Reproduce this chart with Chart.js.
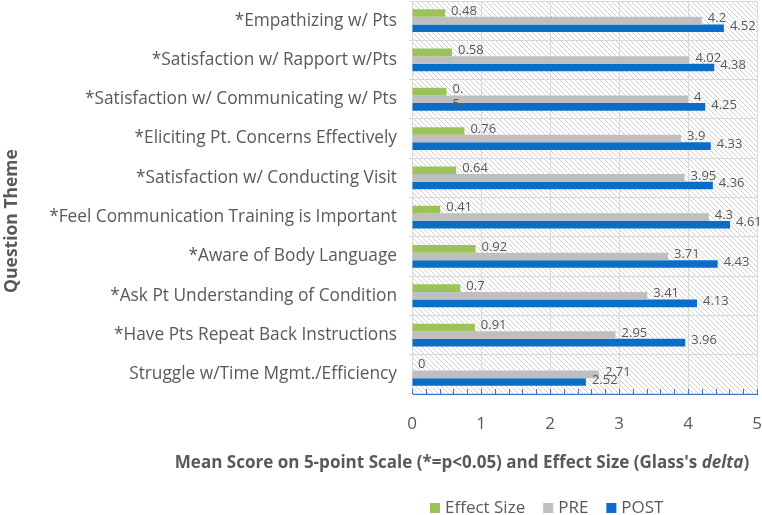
<!DOCTYPE html>
<html>
<head>
<meta charset="utf-8">
<script src="https://cdn.jsdelivr.net/npm/chart.js@4/dist/chart.umd.min.js"></script>
<style>
  html, body { margin: 0; padding: 0; background: #fff; }
</style>
</head>
<body>
<canvas id="chart" width="762" height="515"></canvas>
<script>
const themes = [
  "*Empathizing w/ Pts",
  "*Satisfaction w/ Rapport w/Pts",
  "*Satisfaction w/ Communicating w/ Pts",
  "*Eliciting Pt. Concerns Effectively",
  "*Satisfaction w/ Conducting Visit",
  "*Feel Communication Training is Important",
  "*Aware of Body Language",
  "*Ask Pt Understanding of Condition",
  "*Have Pts Repeat Back Instructions",
  "Struggle w/Time Mgmt./Efficiency"
];
const effectSize = [0.48, 0.58, 0.5, 0.76, 0.64, 0.41, 0.92, 0.7, 0.91, 0];
const preScores = [4.2, 4.02, 4, 3.9, 3.95, 4.3, 3.71, 3.41, 2.95, 2.71];
const postScores = [4.52, 4.38, 4.25, 4.33, 4.36, 4.61, 4.43, 4.13, 3.96, 2.52];
const xTicks = [0, 1, 2, 3, 4, 5];
// the 0.5 label wraps in the original
const effectLabels = effectSize.map(String);
effectLabels[2] = "0.\n5";

const FONT = "'Open Sans', sans-serif";
const TEXT = "#595959";

// diagonal hatch for the plot background
function hatch() {
  const c = document.createElement("canvas");
  c.width = 5; c.height = 5;
  const g = c.getContext("2d");
  g.fillStyle = "#fff";
  g.fillRect(0, 0, 5, 5);
  g.strokeStyle = "#cfcfcf";
  g.lineWidth = 1;
  g.beginPath();
  g.moveTo(-1, -1); g.lineTo(6, 6);
  g.moveTo(-1, 4); g.lineTo(1, 6);
  g.moveTo(4, -1); g.lineTo(6, 1);
  g.stroke();
  return g.createPattern(c, "repeat");
}

const decor = {
  id: "decor",
  beforeDraw(chart) {
    const { ctx, chartArea: a } = chart;
    ctx.save();
    ctx.fillStyle = hatch();
    ctx.fillRect(a.left, a.top, a.right - a.left, a.bottom - a.top);
    ctx.restore();
  },
  afterDatasetsDraw(chart) {
    const { ctx } = chart;
    const texts = [effectLabels, preScores.map(String), postScores.map(String)];
    ctx.save();
    ctx.font = "13px " + FONT;
    ctx.fillStyle = TEXT;
    ctx.textAlign = "left";
    ctx.textBaseline = "middle";
    chart.data.datasets.forEach((ds, di) => {
      chart.getDatasetMeta(di).data.forEach((el, i) => {
        const lines = texts[di][i].split("\n");
        lines.forEach((t, k) => ctx.fillText(t, el.x + 6, el.y - 2 + k * 15));
      });
    });
    ctx.restore();
  },
  afterDraw(chart) {
    const { ctx, chartArea: a, scales } = chart;
    const x = scales.x;
    ctx.save();
    // minor ticks on the value axis
    ctx.strokeStyle = "#4472c4";
    ctx.lineWidth = 1;
    ctx.beginPath();
    for (let i = 0; i <= 25; i++) {
      const px = Math.round(x.getPixelForValue(i * 0.2)) + 0.5;
      ctx.moveTo(px, a.bottom);
      ctx.lineTo(px, a.bottom - 5);
    }
    ctx.stroke();

    // x axis title, "delta" in italics
    const parts = [
      ["bold", "Mean Score on 5-point Scale (*=p<0.05) and Effect Size (Glass's "],
      ["italic bold", "delta"],
      ["bold", ")"]
    ];
    let size = 15;
    const measure = () => parts.reduce((w, p) => {
      ctx.font = p[0] + " " + size + "px " + FONT;
      return w + ctx.measureText(p[1]).width;
    }, 0);
    size = 15 * 575 / measure();
    const w = measure();
    let tx = 462 - w / 2;
    ctx.fillStyle = TEXT;
    ctx.textBaseline = "middle";
    ctx.textAlign = "left";
    parts.forEach(p => {
      ctx.font = p[0] + " " + size + "px " + FONT;
      ctx.fillText(p[1], tx, 463);
      tx += ctx.measureText(p[1]).width;
    });

    // y axis title
    ctx.save();
    ctx.translate(12, 221);
    ctx.rotate(-Math.PI / 2);
    ctx.textAlign = "center";
    ctx.font = "bold 17.5px " + FONT;
    ctx.fillText("Question Theme", 0, 0);
    ctx.restore();

    // legend
    ctx.font = "17px " + FONT;
    let lx = 430;
    chart.data.datasets.forEach(ds => {
      ctx.fillStyle = ds.backgroundColor;
      ctx.fillRect(lx, 503, 10, 10);
      ctx.fillStyle = TEXT;
      ctx.fillText(ds.label, lx + 15, 508);
      lx += 15 + ctx.measureText(ds.label).width + 18;
    });
    ctx.restore();
  }
};

new Chart(document.getElementById("chart"), {
  type: "bar",
  data: {
    labels: themes,
    datasets: [
      { label: "Effect Size", data: effectSize, backgroundColor: "#9bc35a" },
      { label: "PRE", data: preScores, backgroundColor: "#bfbfbf" },
      { label: "POST", data: postScores, backgroundColor: "#0a6dc8" }
    ]
  },
  options: {
    indexAxis: "y",
    responsive: false,
    devicePixelRatio: 1,
    animation: false,
    categoryPercentage: 0.58,
    barPercentage: 1,
    layout: { padding: { top: 1, right: 5, left: 0, bottom: 0 } },
    plugins: {
      legend: { display: false },
      tooltip: { enabled: false }
    },
    scales: {
      x: {
        min: 0,
        max: 5,
        afterBuildTicks: s => { s.ticks = xTicks.map(v => ({ value: v })); },
        ticks: { color: TEXT, font: { family: FONT, size: 17 }, padding: 20 },
        grid: { color: "#d9d9d9", drawTicks: false },
        border: { color: "#4472c4" },
        afterFit: s => { s.height = 121; s.paddingLeft = 0; s.paddingRight = 0; }
      },
      y: {
        ticks: { color: TEXT, font: { family: FONT, size: 17.3 }, padding: 12 },
        grid: { color: "#d9d9d9", tickLength: 3 },
        border: { color: "#d9d9d9" },
        afterFit: s => { s.width = 412; s.paddingTop = 0; s.paddingBottom = 0; }
      }
    }
  },
  plugins: [decor]
});
</script>
</body>
</html>
